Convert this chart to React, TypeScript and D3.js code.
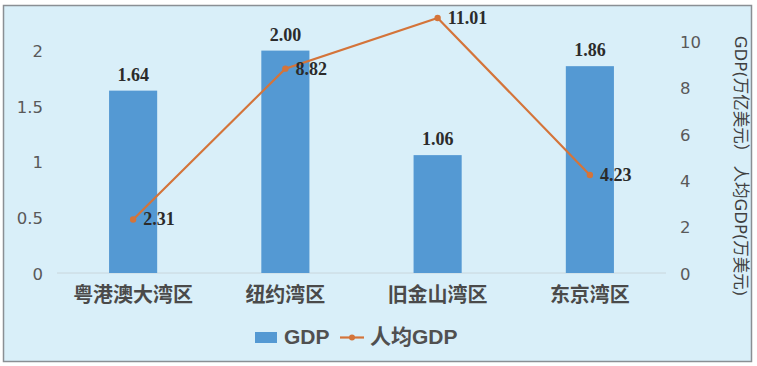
import React from "react";
import * as d3 from "d3";

const categories = ["粤港澳大湾区", "纽约湾区", "旧金山湾区", "东京湾区"];
const gdp = [1.64, 2.0, 1.06, 1.86];
const perCapita = [2.31, 8.82, 11.01, 4.23];
const leftTicks = [0, 0.5, 1, 1.5, 2];
const rightTicks = [0, 2, 4, 6, 8, 10];
const seriesNames = ["GDP", "人均GDP"];
const rightTitle = "GDP(万亿美元） 人均GDP(万美元)";

const W = 757;
const H = 366;
const BAR = "#5499d3";
const LINE = "#d4743a";

export default function App() {
  const x = d3
    .scaleBand<string>()
    .domain(categories)
    .range([57, 666])
    .paddingInner(0.684)
    .paddingOuter(0.342);
  const yL = d3.scaleLinear().domain([0, 2.5]).range([273, -5]);
  const yR = d3.scaleLinear().domain([0, 12]).range([273, -5]);
  const cx = (c: string) => (x(c) ?? 0) + x.bandwidth() / 2;
  const line = d3
    .line<number>()
    .x((_, i) => cx(categories[i]))
    .y((d) => yR(d));

  const sans = "'DejaVu Sans', 'Noto Sans CJK SC', sans-serif";
  const cjk = "'Noto Sans CJK SC', sans-serif";
  const serif = "'Liberation Serif', 'Times New Roman', serif";
  const legSans = "'Liberation Sans', 'Noto Sans CJK SC', sans-serif";

  return (
    <svg
      width={W}
      height={H}
      style={{ position: "absolute", left: 0, top: 0, display: "block" }}
    >
      <rect x={0} y={0} width={W} height={H} fill="#ffffff" />
      <rect
        x={3.5}
        y={5.5}
        width={748}
        height={356}
        fill="#d9eff9"
        stroke="#8a8f94"
        strokeWidth={1.5}
      />
      {/* baseline */}
      <line
        x1={57}
        x2={666}
        y1={yL(0)}
        y2={yL(0)}
        stroke="#c9d6dc"
        strokeWidth={1}
      />
      {/* left ticks */}
      {leftTicks.map((t) => (
        <text
          key={"l" + t}
          x={43}
          y={yL(t) + 2}
          textAnchor="end"
          dominantBaseline="middle"
          fontFamily={sans}
          fontSize={16.5}
          fill="#595959"
        >
          {String(t)}
        </text>
      ))}
      {/* right ticks */}
      {rightTicks.map((t) => (
        <text
          key={"r" + t}
          x={680}
          y={yR(t) + 2}
          textAnchor="start"
          dominantBaseline="middle"
          fontFamily={sans}
          fontSize={16.5}
          fill="#595959"
        >
          {String(t)}
        </text>
      ))}
      {/* right title */}
      <text
        transform={`translate(739, 166) rotate(90)`}
        textAnchor="middle"
        dominantBaseline="middle"
        fontFamily={sans}
        fontSize={16.5}
        fill="#404040"
        style={{ whiteSpace: "pre" }}
      >
        {rightTitle}
      </text>
      {/* bars */}
      {categories.map((c, i) => (
        <rect
          key={"b" + c}
          x={x(c)}
          y={yL(gdp[i])}
          width={x.bandwidth()}
          height={yL(0) - yL(gdp[i])}
          fill={BAR}
        />
      ))}
      {/* bar labels */}
      {categories.map((c, i) => (
        <text
          key={"bl" + c}
          x={cx(c)}
          y={yL(gdp[i]) - 10}
          textAnchor="middle"
          fontFamily={serif}
          fontWeight="bold"
          fontSize={18}
          fill="#2b2b2b"
        >
          {gdp[i].toFixed(2)}
        </text>
      ))}
      {/* line */}
      <path d={line(perCapita) ?? ""} fill="none" stroke={LINE} strokeWidth={2.2} />
      {perCapita.map((v, i) => (
        <circle key={"p" + i} cx={cx(categories[i])} cy={yR(v)} r={3.2} fill={LINE} />
      ))}
      {perCapita.map((v, i) => (
        <text
          key={"pl" + i}
          x={cx(categories[i]) + 10}
          y={yR(v) + 6}
          textAnchor="start"
          fontFamily={serif}
          fontWeight="bold"
          fontSize={18}
          fill="#2b2b2b"
        >
          {v.toFixed(2)}
        </text>
      ))}
      {/* category labels */}
      {categories.map((c) => (
        <text
          key={"c" + c}
          x={cx(c)}
          y={297}
          textAnchor="middle"
          dominantBaseline="middle"
          fontFamily={cjk}
          fontWeight="bold"
          fontSize={20}
          fill="#4a4a4a"
        >
          {c}
        </text>
      ))}
      {/* legend */}
      <rect x={255} y={332} width={22} height={11} fill={BAR} />
      <text
        x={284}
        y={338}
        dominantBaseline="middle"
        fontFamily={legSans}
        fontWeight="bold"
        fontSize={21}
        fill="#505050"
      >
        {seriesNames[0]}
      </text>
      <line x1={340} x2={364} y1={337.5} y2={337.5} stroke={LINE} strokeWidth={2.2} />
      <circle cx={352} cy={337.5} r={3} fill={LINE} />
      <text
        x={370}
        y={338}
        dominantBaseline="middle"
        fontFamily={legSans}
        fontWeight="bold"
        fontSize={21}
        fill="#505050"
      >
        {seriesNames[1]}
      </text>
    </svg>
  );
}
